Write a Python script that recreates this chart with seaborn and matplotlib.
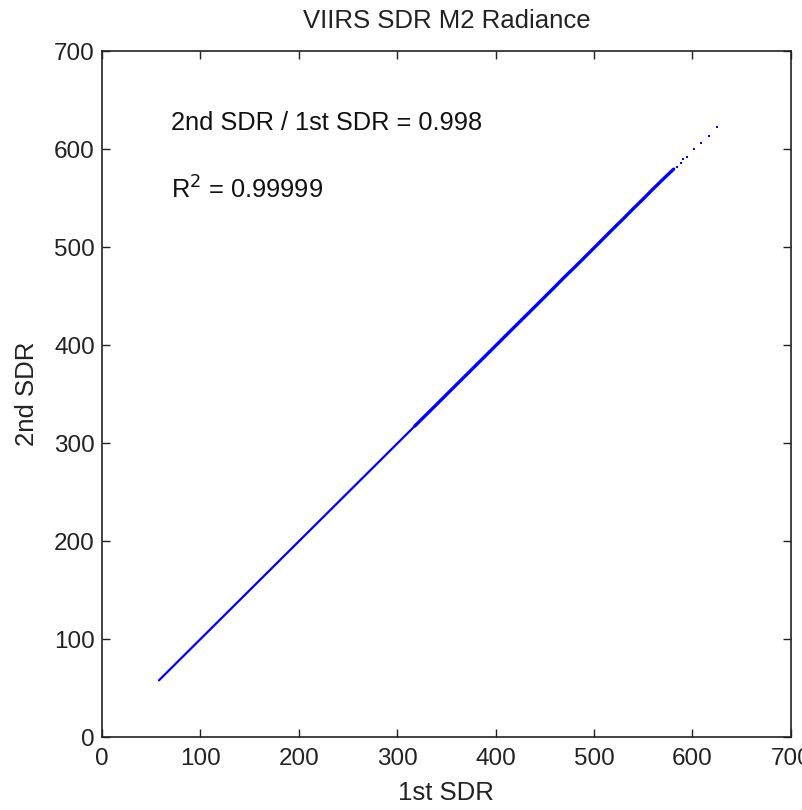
import matplotlib
matplotlib.use("Agg")
import matplotlib.pyplot as plt
import seaborn as sns
import pandas as pd

# Data
low_first = [58, 100, 150, 200, 250, 300, 320]
low_second = [57.9, 99.8, 149.7, 199.6, 249.5, 299.4, 319.4]

high_first = [318, 340, 360, 380, 400, 420, 440, 460, 470, 480, 500, 520, 530, 540, 550, 560, 570, 581]
high_second = [317.4, 339.3, 359.3, 379.2, 399.2, 419.2, 439.1, 459.1, 469.3, 479.0, 499.0, 519.2, 529.0, 539.2, 549.0, 559.2, 569.0, 579.5]

sparse_first = [584, 588, 591, 595, 601.8, 608.6, 617, 624.6]
sparse_second = [582, 586, 589.5, 592, 599.7, 606.4, 613.6, 622.7]

title = "VIIRS SDR M2 Radiance"
xlabel = "1st SDR"
ylabel = "2nd SDR"
ticks = [0, 100, 200, 300, 400, 500, 600, 700]

sns.set_style("white")
plt.rcParams['font.family'] = ['Liberation Sans', 'DejaVu Sans']

fig = plt.figure(figsize=(8.02, 8.10), dpi=100)
ax = fig.add_axes([0.127, 0.090, 0.859, 0.847])

low = pd.DataFrame({"x": low_first, "y": low_second})
high = pd.DataFrame({"x": high_first, "y": high_second})
sparse = pd.DataFrame({"x": sparse_first, "y": sparse_second})

sns.lineplot(data=low, x="x", y="y", ax=ax, color="#0000FF", linewidth=1.6,
             sort=False, estimator=None)
sns.lineplot(data=high, x="x", y="y", ax=ax, color="#0000FF", linewidth=2.4,
             sort=False, estimator=None)
sns.scatterplot(data=sparse, x="x", y="y", ax=ax, color="#0000FF", s=4,
                marker="s", linewidth=0)

ax.set_xlim(0, 700)
ax.set_ylim(0, 700)
ax.set_xticks(ticks)
ax.set_yticks(ticks)
ax.tick_params(direction="in", length=6, width=1, labelsize=17.5, colors="#222222",
               top=True, right=True, bottom=True, left=True)
ax.tick_params(axis="x", pad=8)
ax.tick_params(axis="y", pad=5)
for s in ax.spines.values():
    s.set_color("#222222")
    s.set_linewidth(1.2)

ax.set_title(title, fontsize=18.5, pad=16.5, color="#222222")
ax.set_xlabel(xlabel, fontsize=18.5, color="#222222", labelpad=7.5)
ax.set_ylabel(ylabel, fontsize=18.5, color="#222222", labelpad=11)

ax.text(70, 627, "2nd SDR / 1st SDR = 0.998", fontsize=18.3, va="center", ha="left", color="#111111")
ax.text(70, 558, r"R$^{2}$ = 0.99999", fontsize=18.3, va="center", ha="left", color="#111111")

fig.savefig("out.png", dpi=100)
